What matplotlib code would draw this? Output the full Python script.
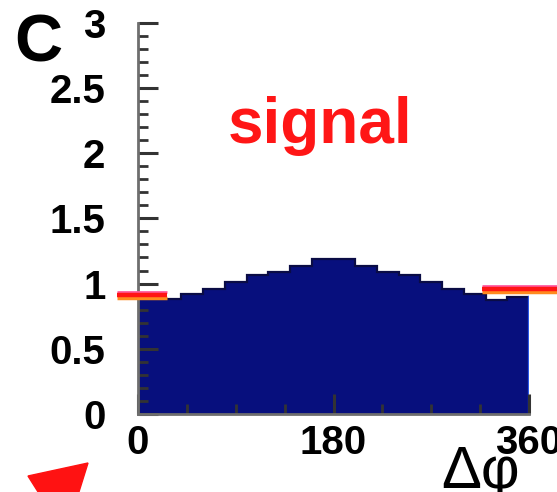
import matplotlib
matplotlib.use('Agg')
import matplotlib.pyplot as plt
import matplotlib.patheffects as pe
from matplotlib.ticker import MultipleLocator
import numpy as np

plt.rcParams['font.family'] = ['Liberation Sans', 'DejaVu Sans']

# Распределение по углу (18 бинов по 20 градусов)
bin_edges = np.arange(0, 361, 20)
signal_vals = [0.88, 0.88, 0.92, 0.96, 1.01, 1.065, 1.09, 1.135, 1.185,
               1.185, 1.135, 1.09, 1.065, 1.01, 0.96, 0.92, 0.875, 0.895]

# Куски красной кривой соседней панели, видные по краям
fit_left_x = [-19, 27]
fit_left_y = [0.913, 0.913]
fit_right_x = [317, 392]
fit_right_y = [0.96, 0.96]

y_ticks = [0, 0.5, 1, 1.5, 2, 2.5, 3]
y_labels = ['0', '0.5', '1', '1.5', '2', '2.5', '3']
x_ticks = [0, 180, 360]
x_labels = ['0', '180', '360']

fig = plt.figure(figsize=(5.57, 4.92), dpi=100)
ax = fig.add_axes([0.2478, 0.1585, 0.7019, 0.7954])

ax.stairs(signal_vals, bin_edges, fill=True, color='#070F7D', zorder=1)
ax.stairs(signal_vals, bin_edges, color='#0A0C45', lw=1.6, zorder=1.2,
          baseline=None)
# светлая правая граница гистограммы
ax.plot([bin_edges[-1], bin_edges[-1]], [0, signal_vals[-1]],
        color='#2B58E6', lw=1.6, zorder=1.3)

fx = [pe.SimpleLineShadow(offset=(0, -2.2), shadow_color='#FF8A1E', alpha=1, linewidth=2.5),
      pe.SimpleLineShadow(offset=(0, 2.0), shadow_color='#FF5AA0', alpha=1, linewidth=2.0),
      pe.Normal()]
for xs, ys in [(fit_left_x, fit_left_y), (fit_right_x, fit_right_y)]:
    ax.plot(xs, ys, color='#FF1414', lw=3.2, clip_on=False, zorder=3,
            solid_capstyle='butt', path_effects=fx)

ax.set_xlim(0, 360)
ax.set_ylim(0, 3)
ax.set_xticks(x_ticks)
ax.set_xticklabels(x_labels)
ax.set_yticks(y_ticks)
ax.set_yticklabels(y_labels)
ax.xaxis.set_minor_locator(MultipleLocator(45))
ax.yaxis.set_minor_locator(MultipleLocator(0.1))

for s in ['top', 'right']:
    ax.spines[s].set_visible(False)
for s in ['left', 'bottom']:
    ax.spines[s].set_color('#6E6E6E')
    ax.spines[s].set_linewidth(2)

ax.tick_params(axis='both', which='major', direction='in', length=14.5,
               width=2.2, color='#333333', labelsize=29)
ax.tick_params(axis='both', which='minor', direction='in', length=7.5,
               width=2.0, color='#333333')
ax.tick_params(axis='y', which='major', pad=23.5)
ax.tick_params(axis='x', which='major', pad=7)
for lab in ax.get_xticklabels() + ax.get_yticklabels():
    lab.set_fontweight('bold')

ax.set_xlabel('Δφ', fontsize=43)
ax.xaxis.set_label_coords(0.875, -0.189)
ax.xaxis.label.set_va('baseline')

fig.text(0.5745, 0.709, 'signal', color='#FF1616', fontsize=46,
         fontweight='bold', ha='center', va='baseline')
fig.text(0.025, 0.874, 'C', fontsize=48, fontweight='bold', va='baseline')

# красный угол маркера соседней панели (внизу слева)
tri_px = np.array([[28, 476], [88, 463], [78, 495], [40, 495]])
tri = plt.Polygon(np.column_stack([tri_px[:, 0] / 557, 1 - tri_px[:, 1] / 492]),
                  closed=True, color='#FF1212', transform=fig.transFigure)
fig.patches.append(tri)

fig.savefig('out.png', dpi=100)
